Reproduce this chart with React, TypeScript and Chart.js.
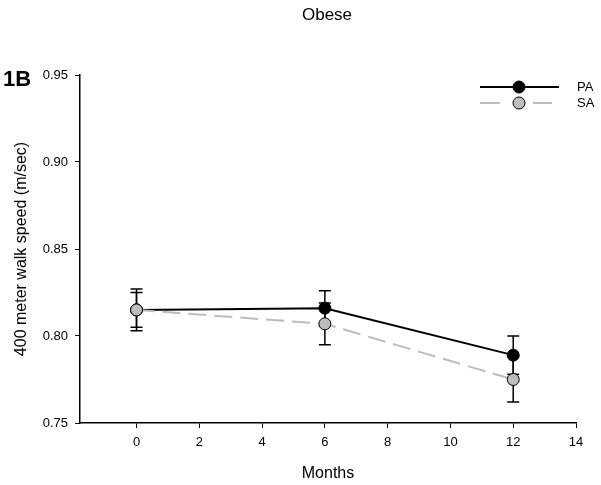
import React, { useEffect, useRef } from "react";
import { Chart, registerables } from "chart.js";

Chart.register(...registerables);

const chartTitle = "Obese";
const panelLabel = "1B";
const xAxisTitle = "Months";
const yAxisTitle = "400 meter walk speed (m/sec)";

const months = [0, 6, 12];
const paLabel = "PA";
const saLabel = "SA";
const paValues = [0.815, 0.816, 0.789];
const paErrors = [0.01, 0.01, 0.011];
const saValues = [0.815, 0.807, 0.775];
const saErrors = [0.012, 0.012, 0.013];

const xTicks = [0, 2, 4, 6, 8, 10, 12, 14];
const yTicks = [0.75, 0.8, 0.85, 0.9, 0.95];

const FONT = "'Liberation Sans', Arial, sans-serif";

const errorBarPlugin = {
  id: "errorBars",
  beforeDatasetsDraw(chart: any) {
    const { ctx } = chart;
    const xs = chart.scales.x;
    const ys = chart.scales.y;
    chart.data.datasets.forEach((ds: any) => {
      const errs: number[] = ds.errors || [];
      ds.data.forEach((p: any, i: number) => {
        const e = errs[i];
        if (e == null) return;
        const x = xs.getPixelForValue(p.x);
        const yT = ys.getPixelForValue(p.y + e);
        const yB = ys.getPixelForValue(p.y - e);
        ctx.save();
        ctx.strokeStyle = "#000";
        ctx.lineWidth = 1.5;
        ctx.beginPath();
        ctx.moveTo(x, yT);
        ctx.lineTo(x, yB);
        ctx.moveTo(x - 6, yT);
        ctx.lineTo(x + 6, yT);
        ctx.moveTo(x - 6, yB);
        ctx.lineTo(x + 6, yB);
        ctx.stroke();
        ctx.restore();
      });
    });
  },
};

const textPlugin = {
  id: "texts",
  afterDraw(chart: any) {
    const { ctx } = chart;
    ctx.save();
    ctx.fillStyle = "#000";
    ctx.font = `17px ${FONT}`;
    ctx.textAlign = "center";
    ctx.textBaseline = "middle";
    ctx.fillText(chartTitle, 327, 15);
    ctx.font = `bold 22px ${FONT}`;
    ctx.textAlign = "left";
    ctx.textBaseline = "alphabetic";
    ctx.fillText(panelLabel, 3, 86);

    // legend
    const rows = [87, 103];
    chart.data.datasets.forEach((ds: any, i: number) => {
      const y = rows[i];
      ctx.save();
      ctx.strokeStyle = ds.borderColor;
      ctx.lineWidth = ds.borderWidth;
      ctx.beginPath();
      if (ds.borderDash && ds.borderDash.length) {
        ctx.moveTo(480, y);
        ctx.lineTo(500, y);
        ctx.moveTo(533, y);
        ctx.lineTo(552, y);
      } else {
        ctx.moveTo(480, y);
        ctx.lineTo(559, y);
      }
      ctx.stroke();
      ctx.restore();
      ctx.beginPath();
      ctx.arc(519, y, ds.pointRadius, 0, Math.PI * 2);
      ctx.fillStyle = ds.pointBackgroundColor;
      ctx.fill();
      ctx.lineWidth = ds.pointBorderWidth;
      ctx.strokeStyle = ds.pointBorderColor;
      ctx.stroke();
      ctx.fillStyle = "#000";
      ctx.font = `13px ${FONT}`;
      ctx.textAlign = "left";
      ctx.textBaseline = "middle";
      ctx.fillText(ds.label, 577, y);
    });
    ctx.restore();
  },
};

export default function App() {
  const ref = useRef<HTMLCanvasElement>(null);
  useEffect(() => {
    if (!ref.current) return;
    const chart = new Chart(ref.current, {
      type: "line",
      data: {
        datasets: [
          {
            label: paLabel,
            data: months.map((m, i) => ({ x: m, y: paValues[i] })),
            errors: paErrors,
            borderColor: "#000000",
            borderWidth: 2,
            pointRadius: 6,
            pointBackgroundColor: "#000000",
            pointBorderColor: "#000000",
            pointBorderWidth: 1,
            order: 1,
          } as any,
          {
            label: saLabel,
            data: months.map((m, i) => ({ x: m, y: saValues[i] })),
            errors: saErrors,
            borderColor: "#bdbdbd",
            borderWidth: 2,
            borderDash: [18, 8],
            pointRadius: 6,
            pointBackgroundColor: "#bdbdbd",
            pointBorderColor: "#000000",
            pointBorderWidth: 1,
            order: 0,
          } as any,
        ],
      },
      options: {
        responsive: false,
        animation: false,
        layout: { padding: { top: 75, right: 25, left: 0, bottom: 0 } },
        plugins: {
          legend: { display: false },
          tooltip: { enabled: false },
          title: { display: false },
        },
        scales: {
          x: {
            type: "linear",
            min: -1.8,
            max: 14,
            afterBuildTicks: (s: any) => {
              s.ticks = xTicks.map((v) => ({ value: v }));
            },
            afterFit: (s: any) => {
              s.height = 62;
            },
            grid: {
              display: true,
              drawOnChartArea: false,
              drawTicks: true,
              tickLength: 5,
              color: "#000",
            },
            border: { display: true, color: "#000", width: 1.5 },
            ticks: {
              color: "#000",
              font: { family: FONT, size: 13 },
              padding: 7,
              maxRotation: 0,
              autoSkip: false,
            },
            title: {
              display: true,
              text: xAxisTitle,
              color: "#000",
              font: { family: FONT, size: 16 },
              padding: { top: 2, bottom: 2 },
            },
          },
          y: {
            type: "linear",
            min: 0.75,
            max: 0.95,
            afterBuildTicks: (s: any) => {
              s.ticks = yTicks.map((v) => ({ value: v }));
            },
            afterFit: (s: any) => {
              s.width = 80;
            },
            grid: {
              display: true,
              drawOnChartArea: false,
              drawTicks: true,
              tickLength: 5,
              color: "#000",
            },
            border: { display: true, color: "#000", width: 1.5 },
            ticks: {
              color: "#000",
              font: { family: FONT, size: 13 },
              padding: 7,
              autoSkip: false,
              callback: (v: any) => Number(v).toFixed(2),
            },
            title: {
              display: true,
              text: yAxisTitle,
              color: "#000",
              font: { family: FONT, size: 16 },
              padding: { top: 12, bottom: 0 },
            },
          },
        },
      },
      plugins: [errorBarPlugin, textPlugin],
    });
    return () => chart.destroy();
  }, []);
  return (
    <div style={{ position: "absolute", left: 0, top: 0, width: 601, height: 485, background: "#fff" }}>
      <canvas ref={ref} width={601} height={485} style={{ width: 601, height: 485 }} />
    </div>
  );
}
